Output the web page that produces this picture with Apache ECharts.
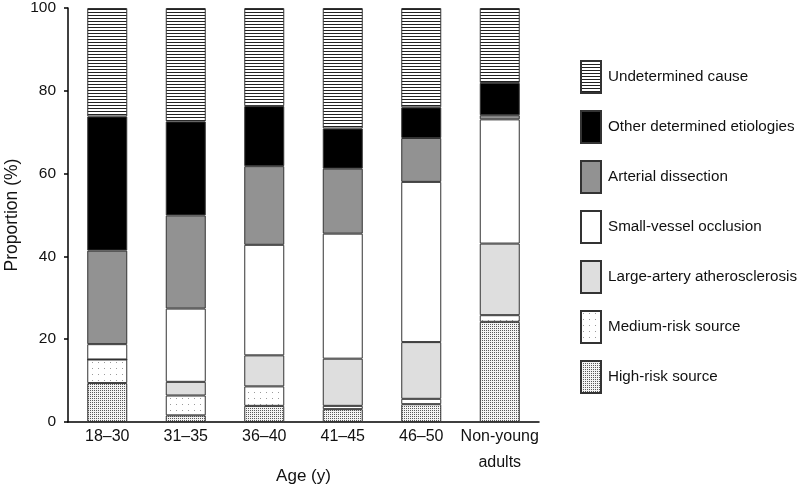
<!DOCTYPE html>
<html><head><meta charset="utf-8">
<script src="https://cdn.jsdelivr.net/npm/echarts@6/dist/echarts.min.js"></script>
<style>html,body{margin:0;padding:0;background:#fff}#c{width:800px;height:487px}</style>
</head><body><div id="c"></div>
<script>
const categories = ['18–30', '31–35', '36–40', '41–45', '46–50', 'Non-young\nadults'];
const seriesNames = ['High-risk source', 'Medium-risk source', 'Large-artery atherosclerosis',
  'Small-vessel occlusion', 'Arterial dissection', 'Other determined etiologies', 'Undetermined cause'];
const highRisk       = [9.4, 1.6, 3.9, 3.1, 4.3, 24.2];
const mediumRisk     = [5.7, 4.8, 4.7, 0.8, 1.3, 1.6];
const largeArtery    = [0.0, 3.3, 7.5, 11.4, 13.7, 17.3];
const smallVessel    = [3.7, 17.7, 26.7, 30.2, 38.7, 30.0];
const arterialDiss   = [22.6, 22.5, 19.0, 15.7, 10.6, 1.0];
const otherDetermined= [32.4, 22.7, 14.5, 9.7, 7.4, 7.8];
const undetermined   = [26.2, 27.4, 23.7, 29.1, 24.0, 18.1];
const yTicks = [0, 20, 40, 60, 80, 100];

function makePattern(w, h, bg, draw) {
  const c = document.createElement('canvas');
  c.width = w; c.height = h;
  const ctx = c.getContext('2d');
  ctx.fillStyle = bg; ctx.fillRect(0, 0, w, h);
  draw(ctx);
  return { image: c, repeat: 'repeat' };
}
const hatch = makePattern(4, 3, '#ffffff', ctx => { ctx.fillStyle = '#222'; ctx.fillRect(0, 0, 4, 1); });
const denseDots = makePattern(2, 2, '#f4f4f4', ctx => { ctx.fillStyle = '#5a5a5a'; ctx.fillRect(0, 0, 1, 1); });
const sparseDots = makePattern(6, 6, '#ffffff', ctx => { ctx.fillStyle = '#9a9a9a'; ctx.fillRect(2, 2, 1, 1); });

const fills = [denseDots, sparseDots, '#dedede', '#ffffff', '#929292', '#000000', hatch];
const values = [highRisk, mediumRisk, largeArtery, smallVessel, arterialDiss, otherDetermined, undetermined];

const font = 'Liberation Sans, Arial, Helvetica, sans-serif';
const series = seriesNames.map((name, i) => ({
  name, type: 'bar', stack: 'total', barWidth: 40,
  data: values[i],
  itemStyle: { color: fills[i], borderColor: '#333', borderWidth: 1 },
  emphasis: { disabled: true },
  animation: false
}));

const chart = echarts.init(document.getElementById('c'), null, { renderer: 'canvas' });
chart.setOption({
  animation: false,
  grid: { left: 68, right: 261, top: 8, bottom: 65, containLabel: false, outerBoundsMode: 'none' },
  legend: {
    orient: 'vertical', left: 575, top: 55,
    itemWidth: 20, itemHeight: 32, itemGap: 16,
    icon: 'rect',
    data: seriesNames.slice().reverse(),
    textStyle: { fontFamily: font, fontSize: 15.2, color: '#111', padding: [0, 0, 0, 2] },
    selectedMode: false
  },
  xAxis: {
    type: 'category', data: categories,
    name: 'Age (y)', nameLocation: 'middle', nameGap: 46, nameMoveOverlap: false,
    nameTextStyle: { fontFamily: font, fontSize: 17, color: '#111' },
    axisLine: { lineStyle: { color: '#000', width: 1.5 } },
    axisTick: { show: false },
    axisLabel: { interval: 0, fontFamily: font, fontSize: 16, color: '#111', margin: 2, lineHeight: 26 }
  },
  yAxis: {
    type: 'value', min: yTicks[0], max: yTicks[yTicks.length - 1], interval: 20,
    name: 'Proportion (%)', nameLocation: 'middle', nameGap: 47, nameRotate: 90, nameMoveOverlap: false,
    nameTextStyle: { fontFamily: font, fontSize: 17.5, color: '#111' },
    axisLine: { show: true, lineStyle: { color: '#000', width: 1.5 } },
    axisTick: { show: true, inside: false, length: 4, lineStyle: { color: '#000', width: 1.5 } },
    axisLabel: { fontFamily: font, fontSize: 15.5, color: '#111', margin: 12 },
    splitLine: { show: false }
  },
  series
});
</script></body></html>
